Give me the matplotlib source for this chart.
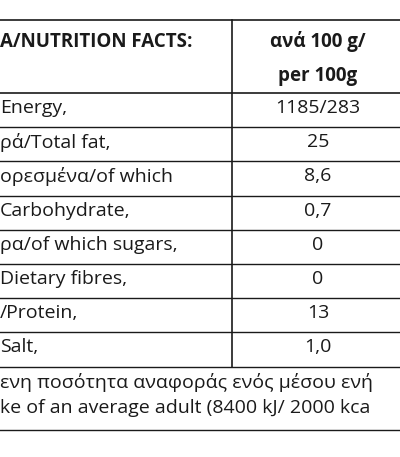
import matplotlib.pyplot as plt

header_left = 'Α/NUTRITION FACTS:'
header_right = ['ανά 100 g/', 'per 100g']
labels = ['Energy,', 'ρά/Total fat,', 'ορεσμένα/of which', 'Carbohydrate,',
          'ρα/of which sugars,', 'Dietary fibres,', '/Protein,', 'Salt,']
values = ['1185/283', '25', '8,6', '0,7', '0', '0', '13', '1,0']
footer = ['ενη ποσότητα αναφοράς ενός μέσου ενή',
          'ke of an average adult (8400 kJ/ 2000 kca']

W, H = 400, 457
fig = plt.figure(figsize=(W / 100, H / 100), dpi=100)
fig.patch.set_facecolor('white')
ax = fig.add_axes([0, 0, 1, 1])
ax.set_xlim(0, W)
ax.set_ylim(H, 0)
ax.axis('off')

fam = ['Open Sans', 'DejaVu Sans']
ink = '#1a1a1a'
split_x = 232
right_c = 318
fs = 14

# header
ax.plot([0, W], [20, 20], color=ink, lw=1.2)
ax.plot([0, W], [93, 93], color=ink, lw=1.2)
ax.text(0, 42, header_left, fontsize=13.5, fontweight='bold', va='center',
        family=fam, color=ink)
ax.text(right_c, 42, header_right[0], fontsize=13.5, fontweight='bold',
        va='center', ha='center', family=fam, color=ink)
ax.text(right_c, 76, header_right[1], fontsize=13.5, fontweight='bold',
        va='center', ha='center', family=fam, color=ink)

row_h = 34.2
y0 = 93
for i, (lab, val) in enumerate(zip(labels, values)):
    yc = y0 + row_h * i + 15
    ax.text(0, yc, lab, fontsize=fs, va='center', family=fam, color=ink)
    ax.text(right_c, yc, val, fontsize=fs, va='center', ha='center',
            family=fam, color=ink)
    ax.plot([0, W], [y0 + row_h * (i + 1)] * 2, color=ink, lw=1.0)

ax.plot([split_x, split_x], [20, y0 + row_h * len(labels)], color=ink, lw=1.2)

ax.text(0, 383, footer[0], fontsize=fs, va='center', family=fam, color=ink)
ax.text(0, 408, footer[1], fontsize=fs, va='center', family=fam, color=ink)
ax.plot([0, W], [430, 430], color=ink, lw=1.0)

fig.savefig('out.png', dpi=100)
